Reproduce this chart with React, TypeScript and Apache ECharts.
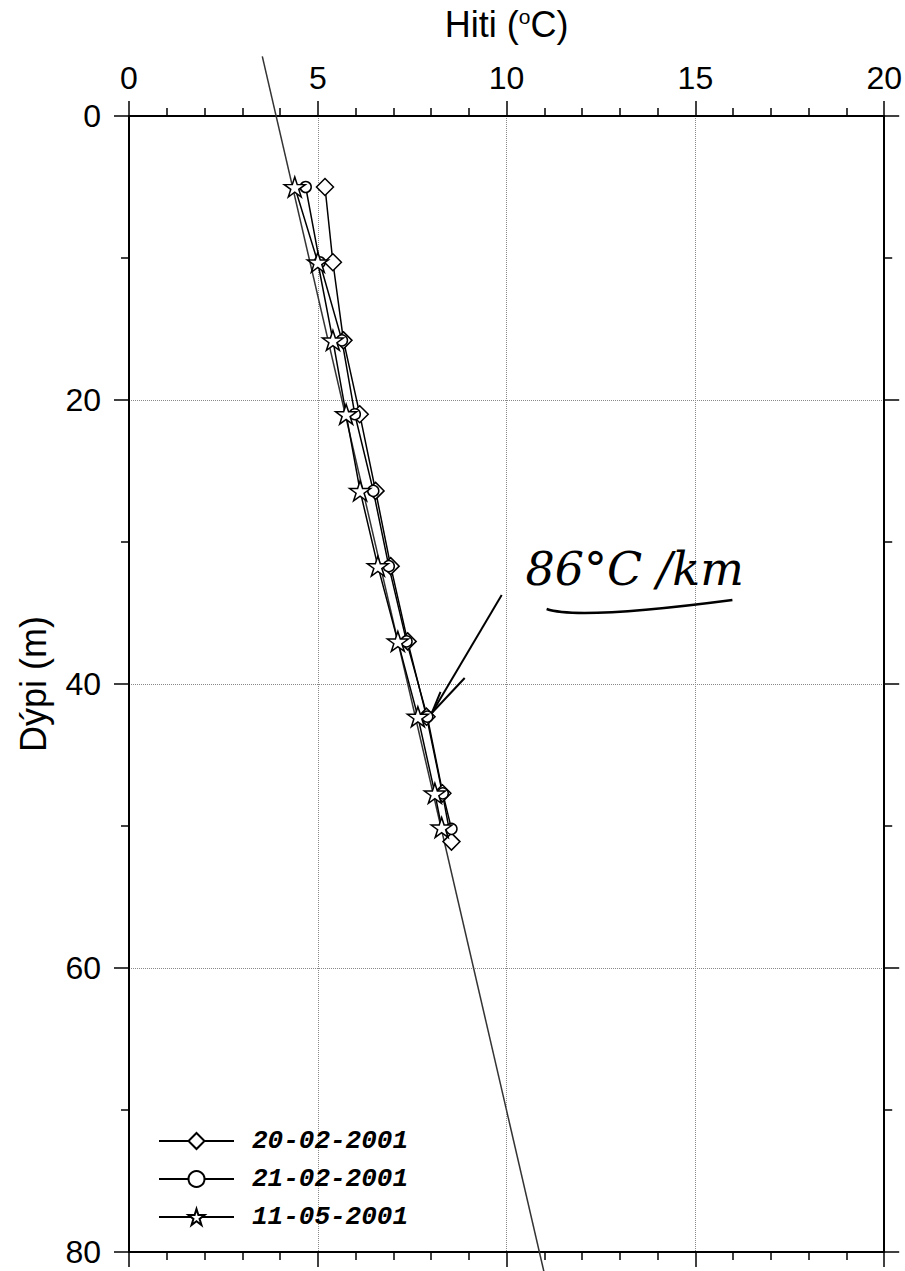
import React, { useEffect, useRef } from 'react';
import * as echarts from 'echarts';

// ---- data ----
const seriesNames = ['20-02-2001', '21-02-2001', '11-05-2001'];

const depths0220 = [5, 10.3, 15.8, 21, 26.4, 31.7, 37, 42.3, 47.7, 51.1];
const temps0220 = [5.19, 5.4, 5.68, 6.11, 6.53, 6.93, 7.38, 7.88, 8.3, 8.54];

const depths0221 = [5, 10.3, 15.8, 21, 26.4, 31.7, 37, 42.3, 47.7, 50.2];
const temps0221 = [4.68, 5.05, 5.64, 5.98, 6.47, 6.88, 7.35, 7.9, 8.31, 8.54];

const depths0511 = [5, 10.3, 15.8, 21, 26.4, 31.7, 37, 42.3, 47.7, 50.1];
const temps0511 = [4.39, 5.0, 5.4, 5.75, 6.12, 6.59, 7.12, 7.65, 8.1, 8.28];

// fitted gradient line (approx. 86 °C/km)
const gradDepths = [-4.2, 81.4];
const gradTemps = [3.53, 10.99];

// annotation anchor points, in data units [temperature, depth]
const annoText = '86°C /km';
const annoTextAt = [10.5, 31.9];
const arrowFrom = [9.87, 33.73];
const arrowTip = [8.02, 42.04];
const arrowHeadA = [8.25, 40.56];
const arrowHeadB = [8.89, 39.58];
const underlineStart = [11.06, 34.72];
const underlineCtrl = [11.9, 35.5];
const underlineEnd = [15.98, 34.08];

const pairs = (xs: number[], ys: number[]) => xs.map((x, i) => [x, ys[i]]);

function starPath(): string {
  const pts: string[] = [];
  for (let i = 0; i < 10; i++) {
    const r = i % 2 === 0 ? 50 : 19.1;
    const a = -Math.PI / 2 + (i * Math.PI) / 5;
    pts.push(`${(50 + r * Math.cos(a)).toFixed(2)} ${(50 + r * Math.sin(a)).toFixed(2)}`);
  }
  return 'path://M' + pts.join(' L') + ' Z';
}

const FONT = 'Liberation Sans';

export default function App() {
  const ref = useRef<HTMLDivElement>(null);

  useEffect(() => {
    const el = ref.current;
    if (!el) return;
    const chart = echarts.init(el, null, { renderer: 'svg' });

    const tickStyle = { color: '#000', width: 1.5 };
    const baseX = {
      type: 'value',
      min: 0,
      max: 20,
      interval: 5,
      axisLine: { show: true, onZero: false, lineStyle: { color: '#000', width: 2 } },
      axisTick: { show: true, inside: false, length: 15, lineStyle: tickStyle },
      minorTick: { show: true, splitNumber: 5, length: 8, lineStyle: tickStyle },
    };
    const baseY = {
      type: 'value',
      min: 0,
      max: 80,
      interval: 20,
      inverse: true,
      axisLine: { show: true, onZero: false, lineStyle: { color: '#000', width: 2 } },
      axisTick: { show: true, inside: false, length: 15, lineStyle: tickStyle },
      minorTick: { show: true, splitNumber: 2, length: 8, lineStyle: tickStyle },
    };

    const seriesStyle = (name: string, data: number[][], symbol: string, size: number | number[]) => ({
      name,
      type: 'line',
      data,
      xAxisIndex: 0,
      yAxisIndex: 0,
      symbol,
      symbolSize: size,
      showAllSymbol: true,
      lineStyle: { color: '#000', width: 1.5 },
      itemStyle: { color: '#fff', borderColor: '#000', borderWidth: 1.5 },
      z: 3,
    });

    const option: any = {
      animation: false,
      backgroundColor: '#fff',
      grid: { left: 129, right: 20, top: 116, bottom: 19 },
      xAxis: [
        {
          ...baseX,
          position: 'top',
          name: 'Hiti ({sup|o}C)',
          nameLocation: 'middle',
          nameGap: 74,
          nameTextStyle: {
            fontSize: 36,
            color: '#000',
            fontFamily: FONT,
            rich: { sup: { fontSize: 21, verticalAlign: 'top', color: '#000', fontFamily: FONT } },
          },
          axisLabel: { fontSize: 32, color: '#000', margin: 22, fontFamily: FONT },
          splitLine: { show: true, lineStyle: { color: '#888', type: 'dotted', width: 1 } },
        },
        {
          ...baseX,
          position: 'bottom',
          axisLabel: { show: false },
          splitLine: { show: false },
        },
      ],
      yAxis: [
        {
          ...baseY,
          position: 'left',
          name: 'Dýpi (m)',
          nameLocation: 'middle',
          nameGap: 78,
          nameRotate: 90,
          nameTextStyle: { fontSize: 36, color: '#000', fontFamily: FONT },
          axisLabel: { fontSize: 32, color: '#000', margin: 28, fontFamily: FONT },
          splitLine: { show: true, lineStyle: { color: '#888', type: 'dotted', width: 1 } },
        },
        {
          ...baseY,
          position: 'right',
          axisLabel: { show: false },
          splitLine: { show: false },
        },
      ],
      legend: {
        data: seriesNames,
        orient: 'vertical',
        left: 153,
        top: 1123,
        itemWidth: 75,
        itemHeight: 20,
        itemGap: 12,
        selectedMode: false,
        textStyle: {
          fontFamily: 'Liberation Mono',
          fontWeight: 'bold',
          fontStyle: 'italic',
          fontSize: 26,
          color: '#000',
          padding: [0, 0, 0, 13],
        },
      },
      series: [
        {
          name: 'gradient',
          type: 'line',
          data: pairs(gradTemps, gradDepths),
          xAxisIndex: 0,
          yAxisIndex: 0,
          symbol: 'none',
          clip: false,
          silent: true,
          lineStyle: { color: '#333', width: 1.5 },
          z: 2,
        },
        seriesStyle(seriesNames[0], pairs(temps0220, depths0220), 'diamond', 17),
        seriesStyle(seriesNames[1], pairs(temps0221, depths0221), 'circle', 11),
        seriesStyle(seriesNames[2], pairs(temps0511, depths0511), starPath(), [21, 20]),
      ],
    };

    chart.setOption(option);

    const P = (p: number[]) =>
      chart.convertToPixel({ xAxisIndex: 0, yAxisIndex: 0 } as any, p) as number[];
    const t = P(annoTextAt);
    const a0 = P(arrowFrom);
    const a1 = P(arrowTip);
    const h1 = P(arrowHeadA);
    const h2 = P(arrowHeadB);
    const u0 = P(underlineStart);
    const uc = P(underlineCtrl);
    const u1 = P(underlineEnd);
    const stroke = { stroke: '#000', lineWidth: 2 };

    chart.setOption({
      graphic: [
        { type: 'line', shape: { x1: a0[0], y1: a0[1], x2: a1[0], y2: a1[1] }, style: stroke, z: 10 },
        { type: 'line', shape: { x1: a1[0], y1: a1[1], x2: h1[0], y2: h1[1] }, style: stroke, z: 10 },
        { type: 'line', shape: { x1: a1[0], y1: a1[1], x2: h2[0], y2: h2[1] }, style: stroke, z: 10 },
        {
          type: 'bezierCurve',
          shape: { x1: u0[0], y1: u0[1], x2: u1[0], y2: u1[1], cpx1: uc[0], cpy1: uc[1] },
          style: { stroke: '#000', lineWidth: 2.5, fill: 'none' },
          z: 10,
        },
        {
          type: 'text',
          x: t[0],
          y: t[1],
          style: {
            text: annoText,
            fontFamily: 'DejaVu Serif',
            fontStyle: 'italic',
            fontSize: 46,
            fill: '#000',
            verticalAlign: 'middle',
            align: 'left',
          },
          z: 10,
        },
      ],
    });

    return () => chart.dispose();
  }, []);

  return (
    <div
      ref={ref}
      style={{ position: 'absolute', left: 0, top: 0, width: 905, height: 1271, background: '#fff' }}
    />
  );
}
